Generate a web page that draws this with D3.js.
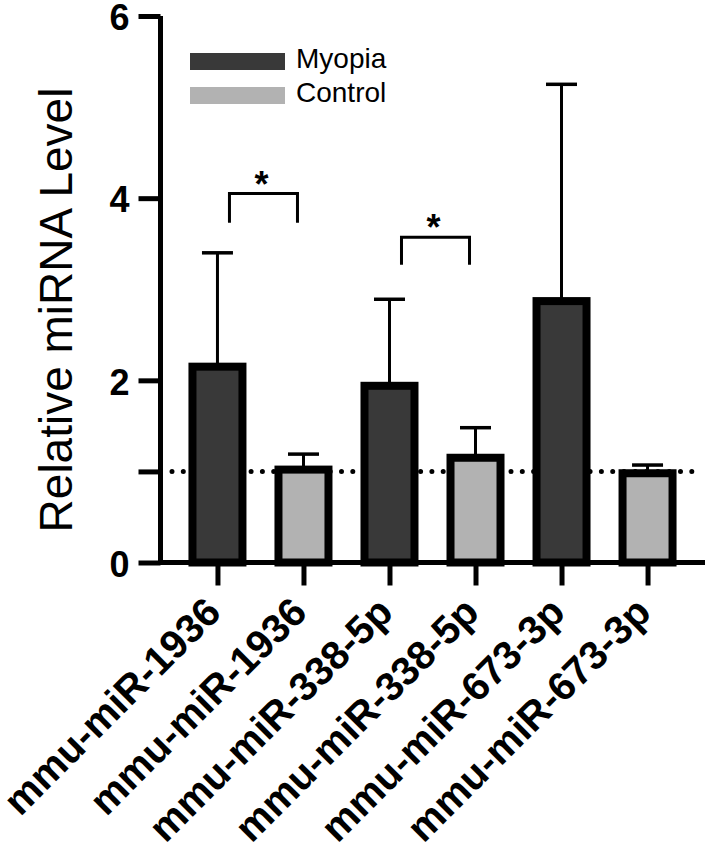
<!DOCTYPE html>
<html>
<head>
<meta charset="utf-8">
<script src="https://cdn.jsdelivr.net/npm/d3@7"></script>
<style>
html,body{margin:0;padding:0;background:#fff;}
svg{display:block;}
</style>
</head>
<body>
<svg id="chart" width="709" height="856"></svg>
<script>
// ---- data ----
const categories = ["mmu-miR-1936","mmu-miR-1936","mmu-miR-338-5p","mmu-miR-338-5p","mmu-miR-673-3p","mmu-miR-673-3p"];
const groups = ["Myopia","Control","Myopia","Control","Myopia","Control"];
const means = [2.15, 1.02, 1.94, 1.15, 2.87, 0.98];
const upperErr = [3.40, 1.19, 2.89, 1.48, 5.25, 1.07];
const yTicks = [0, 2, 4, 6];
const yMinorTicks = [1];
const legendLabels = ["Myopia", "Control"];
const refLine = 1;
const sigPairs = [[0, 1], [2, 3]];
const sigLevels = [4.05, 3.57];
const sigLegs = [3.73, 3.27];
const sigLabels = ["*", "*"];

const colors = {Myopia: "#393939", Control: "#b2b2b2"};
const FONT = "Liberation Sans, Arial, Helvetica, sans-serif";

const svg = d3.select("#chart");
const idx = d3.range(categories.length);

const y = d3.scaleLinear().domain([0, 6]).range([562.5, 16]);
const x = d3.scalePoint().domain(idx).range([160, 705]).padding(0.668);

const barW = 50;

// reference dotted line
svg.append("line")
  .attr("x1", 172).attr("x2", 700)
  .attr("y1", y(refLine)).attr("y2", y(refLine))
  .attr("stroke", "#000").attr("stroke-width", 5)
  .attr("stroke-linecap", "round")
  .attr("stroke-dasharray", "0 11.3");

// error bars
const eb = svg.append("g");
idx.forEach(i => {
  const cx = x(i);
  eb.append("line").attr("x1", cx).attr("x2", cx)
    .attr("y1", y(means[i])).attr("y2", y(upperErr[i]))
    .attr("stroke", "#000").attr("stroke-width", 3);
  eb.append("line").attr("x1", cx - 15.5).attr("x2", cx + 15.5)
    .attr("y1", y(upperErr[i])).attr("y2", y(upperErr[i]))
    .attr("stroke", "#000").attr("stroke-width", 3.5);
});

// bars
svg.append("g").selectAll("rect").data(idx).join("rect")
  .attr("x", i => x(i) - barW / 2)
  .attr("width", barW)
  .attr("y", i => y(means[i]))
  .attr("height", i => y(0) - y(means[i]))
  .attr("fill", i => colors[groups[i]])
  .attr("stroke", "#000")
  .attr("stroke-width", 8);

// y axis
const yAxis = svg.append("g").attr("transform", "translate(160.5,0)")
  .call(d3.axisLeft(y).tickValues(yTicks.concat(yMinorTicks)).tickSize(22).tickPadding(8)
    .tickFormat(d => yTicks.includes(d) ? d : ""));
yAxis.select(".domain").attr("stroke", "#000").attr("stroke-width", 5)
  .attr("d", `M0,${y(6)}V${y(0) + 2.5}`);
yAxis.selectAll(".tick line").attr("stroke", "#000").attr("stroke-width", 5);
yAxis.selectAll(".tick text")
  .attr("font-family", FONT)
  .attr("font-weight", "bold").attr("font-size", 36).attr("fill", "#000")
  .attr("x", -31)
  .attr("dy", "0.38em");

// x axis
const xAxis = svg.append("g").attr("transform", `translate(0,${y(0)})`)
  .call(d3.axisBottom(x).tickSize(23).tickPadding(0).tickFormat(i => categories[i]));
xAxis.select(".domain").attr("stroke", "#000").attr("stroke-width", 5)
  .attr("d", `M158,0H705`);
xAxis.selectAll(".tick line").attr("stroke", "#000").attr("stroke-width", 5);
xAxis.selectAll(".tick text")
  .attr("font-family", FONT)
  .attr("font-weight", "bold").attr("font-size", 40).attr("fill", "#000")
  .attr("text-anchor", "end")
  .attr("x", 0).attr("y", 0)
  .attr("dy", null)
  .attr("transform", "translate(5,52) rotate(-45)");

// y title
svg.append("text")
  .attr("transform", "translate(72,310) rotate(-90)")
  .attr("text-anchor", "middle")
  .attr("font-family", FONT)
  .attr("font-size", 46).attr("fill", "#000")
  .text("Relative miRNA Level");

// legend
const lg = svg.append("g");
legendLabels.forEach((g, k) => {
  lg.append("rect").attr("x", 190).attr("y", 53 + k * 34).attr("width", 95).attr("height", 17)
    .attr("fill", colors[g]);
  lg.append("text").attr("x", 296).attr("y", 68 + k * 34)
    .attr("font-family", FONT)
    .attr("font-size", 28).attr("fill", "#000").text(g);
});

// significance brackets
const sg = svg.append("g");
sigPairs.forEach(([a, b], k) => {
  const x1 = x(a) + 12, x2 = x(b) - 6;
  const yt = y(sigLevels[k]), yb = y(sigLegs[k]);
  sg.append("path").attr("d", `M${x1},${yb}V${yt}H${x2}V${yb}`)
    .attr("fill", "none").attr("stroke", "#000").attr("stroke-width", 3);
  sg.append("text").attr("x", (x1 + x2) / 2 - 2).attr("y", yt + 3)
    .attr("text-anchor", "middle")
    .attr("font-family", FONT)
    .attr("font-weight", "bold").attr("font-size", 36).attr("fill", "#000")
    .text(sigLabels[k]);
});
</script>
</body>
</html>
